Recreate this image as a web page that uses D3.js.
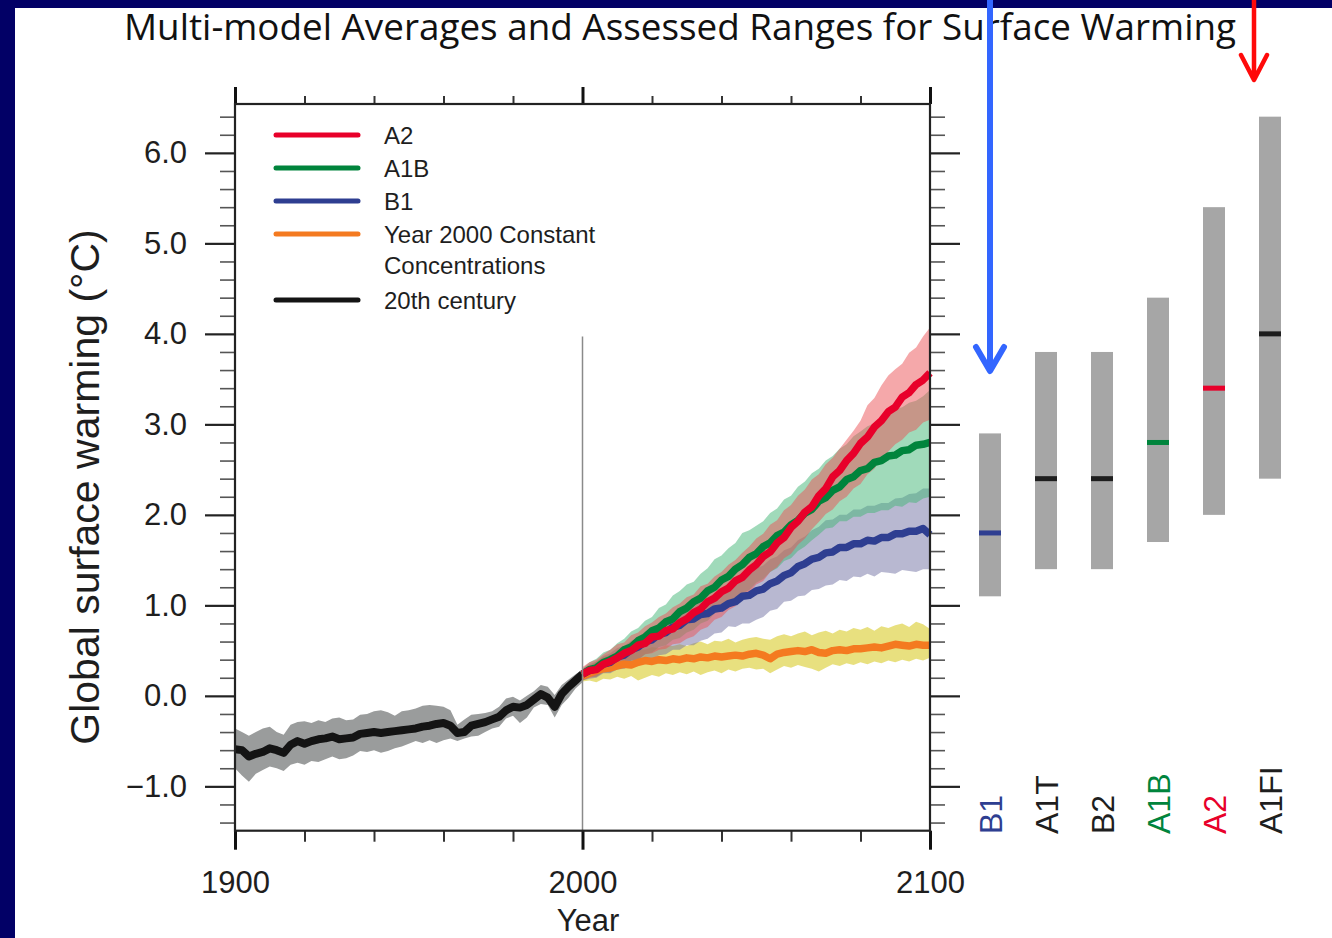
<!DOCTYPE html>
<html>
<head>
<meta charset="utf-8">
<script src="https://cdn.jsdelivr.net/npm/d3@7"></script>
<style>
  html, body { margin: 0; padding: 0; background: #fff; }
  svg { display: block; font-family: "Liberation Sans", Arial, sans-serif; }
</style>
</head>
<body>
<svg id="chart" width="1332" height="938"></svg>
<script>
// --- données (pas de 2 ans) ---
const histYears = d3.range(1900, 2001, 2);
const scenYears = d3.range(2000, 2101, 2);

const histMean = [-0.59,-0.60,-0.67,-0.64,-0.62,-0.58,-0.60,-0.63,-0.54,-0.50,
  -0.53,-0.50,-0.48,-0.47,-0.45,-0.48,-0.47,-0.46,-0.42,-0.41,
  -0.40,-0.41,-0.40,-0.39,-0.38,-0.37,-0.36,-0.34,-0.33,-0.31,
  -0.30,-0.33,-0.41,-0.40,-0.33,-0.31,-0.29,-0.26,-0.23,-0.16,
  -0.12,-0.13,-0.10,-0.04,0.02,-0.02,-0.12,0.02,0.10,0.17,
  0.24];
const histLo = [-0.80,-0.88,-0.95,-0.86,-0.82,-0.78,-0.80,-0.83,-0.76,-0.74,
  -0.76,-0.72,-0.73,-0.70,-0.67,-0.70,-0.69,-0.66,-0.61,-0.62,
  -0.60,-0.63,-0.61,-0.58,-0.56,-0.53,-0.50,-0.52,-0.49,-0.52,
  -0.49,-0.47,-0.50,-0.47,-0.45,-0.44,-0.40,-0.36,-0.34,-0.25,
  -0.22,-0.30,-0.24,-0.13,-0.09,-0.10,-0.24,-0.10,-0.02,0.08,
  0.15];
const histHi = [-0.36,-0.40,-0.44,-0.40,-0.36,-0.34,-0.40,-0.43,-0.32,-0.29,
  -0.28,-0.30,-0.27,-0.29,-0.25,-0.24,-0.27,-0.26,-0.21,-0.20,
  -0.17,-0.16,-0.18,-0.22,-0.17,-0.16,-0.14,-0.11,-0.10,-0.11,
  -0.12,-0.16,-0.32,-0.26,-0.21,-0.20,-0.19,-0.17,-0.12,-0.03,
  -0.01,-0.05,0.00,0.05,0.12,0.10,0.01,0.12,0.18,0.24,
  0.29];

const a2Mean = [0.24,0.28,0.29,0.35,0.38,0.42,0.47,0.50,0.56,0.58,
  0.65,0.66,0.72,0.74,0.81,0.85,0.92,0.96,1.04,1.08,
  1.15,1.19,1.27,1.31,1.39,1.45,1.54,1.59,1.69,1.75,
  1.86,1.93,2.03,2.09,2.21,2.29,2.42,2.49,2.60,2.68,
  2.79,2.86,2.97,3.04,3.14,3.19,3.30,3.35,3.44,3.49,
  3.57];
const a2Lo = [0.17,0.20,0.21,0.26,0.26,0.31,0.33,0.39,0.40,0.46,
  0.47,0.51,0.52,0.57,0.58,0.63,0.66,0.73,0.76,0.84,
  0.87,0.95,0.99,1.09,1.14,1.23,1.27,1.37,1.42,1.52,
  1.57,1.67,1.74,1.84,1.92,2.01,2.06,2.15,2.20,2.29,
  2.34,2.45,2.51,2.63,2.70,2.78,2.83,2.91,2.94,3.02,
  3.05];
const a2Hi = [0.32,0.37,0.40,0.46,0.51,0.57,0.59,0.67,0.70,0.77,
  0.81,0.87,0.91,0.98,1.02,1.09,1.12,1.21,1.24,1.32,
  1.37,1.45,1.50,1.58,1.65,1.74,1.79,1.89,1.94,2.05,
  2.11,2.21,2.28,2.39,2.45,2.56,2.63,2.73,2.83,2.93,
  3.04,3.21,3.29,3.43,3.54,3.61,3.67,3.79,3.85,3.97,
  4.07];

const a1bMean = [0.24,0.29,0.31,0.37,0.40,0.44,0.51,0.54,0.61,0.65,
  0.72,0.75,0.82,0.85,0.93,0.97,1.04,1.08,1.16,1.20,
  1.28,1.32,1.40,1.45,1.53,1.57,1.65,1.69,1.77,1.81,
  1.89,1.94,2.02,2.06,2.15,2.19,2.27,2.31,2.39,2.42,
  2.49,2.51,2.58,2.60,2.65,2.66,2.71,2.72,2.77,2.78,
  2.80];
const a1bLo = [0.17,0.21,0.21,0.26,0.26,0.32,0.33,0.39,0.40,0.46,
  0.48,0.54,0.56,0.62,0.64,0.70,0.73,0.80,0.83,0.91,
  0.95,1.02,1.05,1.13,1.17,1.25,1.29,1.37,1.41,1.49,
  1.52,1.60,1.65,1.72,1.78,1.85,1.86,1.93,1.93,1.98,
  1.98,2.02,2.02,2.05,2.05,2.10,2.09,2.14,2.13,2.18,
  2.20];
const a1bHi = [0.30,0.37,0.41,0.48,0.51,0.58,0.63,0.71,0.75,0.83,
  0.87,0.97,1.01,1.11,1.16,1.23,1.26,1.35,1.41,1.51,
  1.55,1.63,1.69,1.80,1.83,1.88,1.93,2.02,2.07,2.17,
  2.21,2.31,2.37,2.46,2.51,2.60,2.65,2.73,2.78,2.87,
  2.92,2.98,3.01,3.08,3.11,3.17,3.19,3.24,3.26,3.31,
  3.38];

const b1Mean = [0.24,0.28,0.30,0.35,0.37,0.43,0.45,0.51,0.54,0.60,
  0.62,0.68,0.70,0.76,0.78,0.84,0.85,0.90,0.91,0.96,
  0.97,1.02,1.04,1.10,1.11,1.16,1.18,1.24,1.27,1.33,
  1.36,1.43,1.46,1.51,1.53,1.58,1.59,1.64,1.64,1.68,
  1.68,1.72,1.71,1.75,1.75,1.79,1.79,1.82,1.82,1.85,
  1.78];
const b1Lo = [0.17,0.19,0.20,0.25,0.25,0.29,0.30,0.34,0.35,0.39,
  0.40,0.45,0.46,0.51,0.51,0.56,0.56,0.61,0.63,0.69,
  0.70,0.77,0.76,0.80,0.80,0.84,0.87,0.94,0.96,1.04,
  1.05,1.10,1.11,1.17,1.18,1.22,1.23,1.28,1.27,1.32,
  1.31,1.35,1.32,1.37,1.36,1.35,1.39,1.38,1.37,1.40,
  1.40];
const b1Hi = [0.30,0.35,0.38,0.44,0.47,0.53,0.55,0.61,0.64,0.71,
  0.73,0.80,0.82,0.88,0.90,0.96,0.98,1.04,1.06,1.12,
  1.14,1.21,1.24,1.31,1.34,1.41,1.44,1.51,1.54,1.61,
  1.64,1.72,1.76,1.83,1.87,1.94,1.95,2.00,2.00,2.06,
  2.06,2.10,2.10,2.13,2.13,2.18,2.19,2.23,2.24,2.29,
  2.29];

const commitMean = [0.22,0.25,0.28,0.30,0.31,0.33,0.35,0.34,0.37,0.39,
  0.38,0.40,0.39,0.41,0.40,0.42,0.41,0.43,0.42,0.44,
  0.43,0.44,0.45,0.44,0.46,0.47,0.45,0.41,0.46,0.48,
  0.49,0.50,0.49,0.51,0.48,0.47,0.50,0.51,0.50,0.52,
  0.52,0.53,0.54,0.53,0.55,0.57,0.56,0.55,0.57,0.56,
  0.56];
const commitLo = [0.16,0.17,0.15,0.19,0.18,0.21,0.19,0.22,0.17,0.20,
  0.23,0.21,0.25,0.23,0.26,0.24,0.27,0.23,0.26,0.28,
  0.25,0.29,0.27,0.30,0.31,0.29,0.30,0.25,0.29,0.33,
  0.31,0.34,0.32,0.30,0.27,0.31,0.35,0.33,0.36,0.34,
  0.37,0.35,0.38,0.36,0.39,0.37,0.40,0.38,0.41,0.39,
  0.42];
const commitHi = [0.28,0.33,0.38,0.43,0.45,0.46,0.50,0.48,0.52,0.51,
  0.54,0.53,0.56,0.55,0.57,0.55,0.58,0.60,0.57,0.61,
  0.60,0.63,0.59,0.62,0.64,0.65,0.63,0.62,0.66,0.68,
  0.66,0.69,0.71,0.67,0.70,0.72,0.69,0.73,0.71,0.75,
  0.73,0.76,0.72,0.77,0.75,0.78,0.80,0.76,0.82,0.79,
  0.74];

// barres à droite : meilleure estimation et plage probable en 2090-2099
const scenarios = ['B1', 'A1T', 'B2', 'A1B', 'A2', 'A1FI'];
const bestEst   = [1.8, 2.4, 2.4, 2.8, 3.4, 4.0];
const likelyLo  = [1.1, 1.4, 1.4, 1.7, 2.0, 2.4];
const likelyHi  = [2.9, 3.8, 3.8, 4.4, 5.4, 6.4];

const yMajor = [-1, 0, 1, 2, 3, 4, 5, 6];
const xMajor = [1900, 2000, 2100];
const legendLabels = ['A2', 'A1B', 'B1', 'Year 2000 Constant\nConcentrations', '20th century'];

// --- couleurs ---
const C = {
  A2: '#e8002a', A1B: '#00843c', B1: '#2e3e91', commit: '#f47a20', hist: '#141414',
  A2band: '#eb5155', A1Bband: '#41b575', B1band: '#7171a3', commitBand: '#d1c100',
  histBand: '#9a9c9c', bar: '#a6a6a6', navy: '#020066', ink: '#1e1e1e'
};
const legendColors = [C.A2, C.A1B, C.B1, C.commit, C.hist];
const scenColors = { B1: C.B1, A1T: C.ink, B2: C.ink, A1B: C.A1B, A2: C.A2, A1FI: C.ink };

const svg = d3.select('#chart');
const x = d3.scaleLinear().domain([1900, 2100]).range([235, 930]);
const y = d3.scaleLinear().domain([-1.49, 6.54]).range([830.7, 104]);
const [L, R] = x.range(), [B, T] = y.range();

svg.append('rect').attr('width', 1332).attr('height', 938).attr('fill', '#fff');

// titre
svg.append('text')
  .attr('x', 680).attr('y', 40)
  .attr('text-anchor', 'middle')
  .attr('font-family', '"Open Sans", "Noto Sans", sans-serif')
  .attr('font-size', 36).attr('fill', '#111')
  .attr('textLength', 1112).attr('lengthAdjust', 'spacingAndGlyphs')
  .text('Multi-model Averages and Assessed Ranges for Surface Warming');

// --- séries ---
function band(years, lo, hi) {
  return d3.area().x((d, i) => x(years[i])).y0((d, i) => y(lo[i])).y1((d, i) => y(hi[i]))(years);
}
function line(years, vals) {
  return d3.line().x((d, i) => x(years[i])).y((d, i) => y(vals[i]))(years);
}

const plot = svg.append('g');
plot.append('path').attr('d', band(histYears, histLo, histHi)).attr('fill', C.histBand);
plot.append('path').attr('d', line(histYears, histMean))
  .attr('fill', 'none').attr('stroke', C.hist).attr('stroke-width', 8).attr('stroke-linejoin', 'round');

[[commitLo, commitHi, C.commitBand], [b1Lo, b1Hi, C.B1band], [a1bLo, a1bHi, C.A1Bband], [a2Lo, a2Hi, C.A2band]]
  .forEach(([lo, hi, col]) => {
    plot.append('path').attr('d', band(scenYears, lo, hi)).attr('fill', col).attr('fill-opacity', 0.5);
  });

[[commitMean, C.commit], [b1Mean, C.B1], [a1bMean, C.A1B], [a2Mean, C.A2]].forEach(([vals, col]) => {
  plot.append('path').attr('d', line(scenYears, vals))
    .attr('fill', 'none').attr('stroke', col).attr('stroke-width', 7.5).attr('stroke-linejoin', 'round');
});

// ligne verticale de l'an 2000
svg.append('line')
  .attr('x1', x(2000)).attr('x2', x(2000)).attr('y1', y(3.97)).attr('y2', B)
  .attr('stroke', '#8a8a8a').attr('stroke-width', 1.5);

// --- axes (graduations vers l'extérieur sur les quatre côtés) ---
const yMinor = d3.range(-1.4, 6.41, 0.2).map(v => +v.toFixed(1)).filter(v => !yMajor.includes(v));
const xMinor = d3.range(1920, 2100, 20).filter(v => !xMajor.includes(v));
const fmt = d => (d < 0 ? '\u2212' : '') + Math.abs(d).toFixed(1);

function styleAxis(g, col, w) {
  g.select('.domain').remove();
  g.selectAll('.tick line').attr('stroke', col).attr('stroke-width', w);
}

svg.append('g').attr('transform', `translate(${L},0)`)
  .call(d3.axisLeft(y).tickValues(yMinor).tickSize(15).tickFormat(''))
  .call(g => styleAxis(g, '#555', 1.6));
svg.append('g').attr('transform', `translate(${L},0)`)
  .call(d3.axisLeft(y).tickValues(yMajor).tickSize(30).tickPadding(18).tickFormat(fmt))
  .call(g => styleAxis(g, '#222', 2.2))
  .call(g => g.selectAll('text').attr('font-size', 31).attr('fill', C.ink)
    .attr('font-family', '"Liberation Sans", Arial, sans-serif'));

svg.append('g').attr('transform', `translate(${R},0)`)
  .call(d3.axisRight(y).tickValues(yMinor).tickSize(15).tickFormat(''))
  .call(g => styleAxis(g, '#555', 1.6));
svg.append('g').attr('transform', `translate(${R},0)`)
  .call(d3.axisRight(y).tickValues(yMajor).tickSize(30).tickFormat(''))
  .call(g => styleAxis(g, '#222', 2.2));

svg.append('g').attr('transform', `translate(0,${B})`)
  .call(d3.axisBottom(x).tickValues(xMinor).tickSize(11).tickFormat(''))
  .call(g => styleAxis(g, '#333', 2));
svg.append('g').attr('transform', `translate(0,${B})`)
  .call(d3.axisBottom(x).tickValues(xMajor).tickSize(19).tickPadding(21).tickFormat(d3.format('d')))
  .call(g => styleAxis(g, '#111', 3))
  .call(g => g.selectAll('text').attr('font-size', 31).attr('fill', C.ink)
    .attr('font-family', '"Liberation Sans", Arial, sans-serif'));

svg.append('g').attr('transform', `translate(0,${T})`)
  .call(d3.axisTop(x).tickValues(xMinor).tickSize(8).tickFormat(''))
  .call(g => styleAxis(g, '#333', 2));
svg.append('g').attr('transform', `translate(0,${T})`)
  .call(d3.axisTop(x).tickValues(xMajor).tickSize(17).tickFormat(''))
  .call(g => styleAxis(g, '#111', 3));

svg.append('rect')
  .attr('x', L).attr('y', T).attr('width', R - L).attr('height', B - T)
  .attr('fill', 'none').attr('stroke', '#222').attr('stroke-width', 2.2);

// titres d'axes
svg.append('text')
  .attr('x', 588).attr('y', 931).attr('text-anchor', 'middle')
  .attr('font-size', 31).attr('fill', C.ink).text('Year');
svg.append('text')
  .attr('transform', 'translate(99,487) rotate(-90)').attr('text-anchor', 'middle')
  .attr('font-size', 41).attr('fill', C.ink).text('Global surface warming (\u00b0C)');

// --- légende ---
const leg = svg.append('g');
let row = 0;
legendLabels.forEach((lab, i) => {
  const ly = 135 + row * 33;
  leg.append('line').attr('x1', 276).attr('x2', 358).attr('y1', ly).attr('y2', ly)
    .attr('stroke', legendColors[i]).attr('stroke-width', 5).attr('stroke-linecap', 'round');
  const t = leg.append('text').attr('x', 384).attr('y', ly + 8.5)
    .attr('font-size', 24).attr('fill', C.ink);
  lab.split('\n').forEach((part, k) => {
    t.append('tspan').attr('x', 384).attr('dy', k ? 31 : 0).text(part);
  });
  row += lab.split('\n').length;
});

// --- panneau de droite : plages probables ---
const xs = d3.scalePoint().domain(scenarios).range([990, 1270]);
const barW = 22;
const right = svg.append('g');
right.selectAll('rect.range').data(scenarios).join('rect').attr('class', 'range')
  .attr('x', d => xs(d) - barW / 2).attr('width', barW)
  .attr('y', (d, i) => y(likelyHi[i])).attr('height', (d, i) => y(likelyLo[i]) - y(likelyHi[i]))
  .attr('fill', C.bar);
right.selectAll('rect.best').data(scenarios).join('rect').attr('class', 'best')
  .attr('x', d => xs(d) - barW / 2).attr('width', barW)
  .attr('y', (d, i) => y(bestEst[i]) - 2.5).attr('height', 5)
  .attr('fill', d => scenColors[d]);
right.selectAll('text').data(scenarios).join('text')
  .attr('transform', d => `translate(${xs(d) + 11.5},834) rotate(-90)`)
  .attr('font-size', 32).attr('fill', d => scenColors[d])
  .text(d => d);

// --- cadre bleu marine ---
svg.append('rect').attr('x', 0).attr('y', 0).attr('width', 15).attr('height', 938).attr('fill', C.navy);
svg.append('rect').attr('x', 0).attr('y', 0).attr('width', 1332).attr('height', 8).attr('fill', C.navy);

// --- flèches ---
const arrows = [
  { x0: 990, tip: 371, half: 14, head: 24, col: '#3366ff', w: 6 },
  { x0: 1254, tip: 80, half: 13, head: 25, col: '#ff0a0a', w: 4.5 }
];
arrows.forEach(a => {
  svg.append('path')
    .attr('d', `M${a.x0},0 L${a.x0},${a.tip - 2} M${a.x0 - a.half},${a.tip - a.head} L${a.x0},${a.tip} L${a.x0 + a.half},${a.tip - a.head}`)
    .attr('fill', 'none').attr('stroke', a.col).attr('stroke-width', a.w)
    .attr('stroke-linecap', 'round').attr('stroke-linejoin', 'round');
});
</script>
</body>
</html>
